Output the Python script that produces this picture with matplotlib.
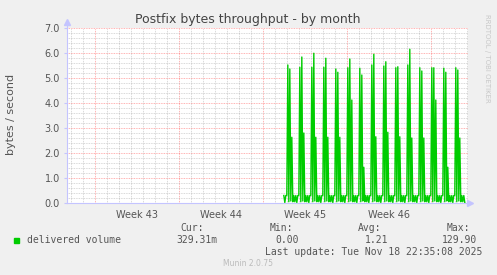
import numpy as np
from matplotlib import pyplot as plt

# munin "by month" graph, x in days from monday of week 43
week_labels = ["Week 43", "Week 44", "Week 45", "Week 46"]
week_mid = [3.5, 10.5, 17.5, 24.5]
week_start = [0, 7, 14, 21, 28]

# daily peaks (02:00, 06:00, 10:00) for days 16..30
p1 = [5.52, 5.43, 5.43, 5.43, 5.36, 5.41, 5.39, 5.52, 5.48, 5.41, 5.52, 5.41, 5.41, 5.39, 5.41]
p2 = [5.36, 5.84, 5.99, 5.79, 5.23, 5.76, 5.12, 5.95, 5.65, 5.45, 6.15, 5.28, 5.41, 5.23, 5.32]
p3 = [2.63, 2.80, 2.63, 2.63, 2.63, 4.12, 1.43, 2.65, 2.83, 2.65, 2.60, 2.60, 4.12, 1.43, 2.60]
# the quiet 2-hour slots of a day
base = [0.30, 0.00, 0.05, 0.00, 0.08, 0.00, 0.05, 0.30, 0.05, 0.30, 0.02, 0.30]

t = []
v = []
for k in range(9, 12):
    t.append(15 + k / 12)
    v.append(base[k])
for i in range(15):
    d = 16 + i
    day = list(base)
    day[1] = p1[i]
    day[3] = p2[i]
    day[5] = p3[i]
    last = 12 if d < 30 else 11
    for k in range(last):
        t.append(d + k / 12)
        v.append(day[k])

W, H = 497, 275
fig = plt.figure(figsize=(W / 100, H / 100), dpi=100)
fig.patch.set_facecolor("#F0F0F0")
ax = fig.add_axes([67 / W, 72 / H, 401 / W, 175 / H])
ax.set_facecolor("white")

xmin, xmax = -2.32, 31.1
ax.set_xlim(xmin, xmax)
ax.set_ylim(0, 7)

minor_col = (0.5, 0.5, 0.5, 0.4)
major_col = (1.0, 0.0, 0.0, 0.4)
for d in range(-2, 32):
    if d in week_start:
        continue
    ax.axvline(d, color=minor_col, lw=0.6, ls=(0, (1, 1)), zorder=1)
for d in week_start:
    ax.axvline(d, color=major_col, lw=0.6, ls=(0, (1, 1)), zorder=1)
for y in np.arange(0.2, 7.0, 0.2):
    if abs(y - round(y)) < 1e-6:
        continue
    ax.axhline(y, color=minor_col, lw=0.6, ls=(0, (1, 1)), zorder=1)
for y in range(1, 8):
    ax.axhline(y, color=major_col, lw=0.6, ls=(0, (1, 1)), zorder=1)

ax.plot(t, v, color="#00CC00", lw=1.0, zorder=3)

for s in ["top", "right"]:
    ax.spines[s].set_visible(False)
axis_col = "#C4C4FF"
ax.spines["left"].set_color(axis_col)
ax.spines["bottom"].set_color(axis_col)
ax.plot([xmax + 0.2], [0], marker=">", color=axis_col, ms=4, clip_on=False, zorder=4)
ax.plot([xmin], [7.25], marker="^", color=axis_col, ms=4, clip_on=False, zorder=4)
ax.plot([xmin, xmin], [7.0, 7.25], color=axis_col, lw=0.8, clip_on=False)

ax.set_xticks(week_mid)
ax.set_xticklabels(week_labels)
ax.set_yticks(range(8))
ax.set_yticklabels(["%.1f" % y for y in range(8)])
ax.tick_params(axis="x", length=0, pad=5, labelsize=7, colors="#555555")
ax.tick_params(axis="y", length=2, pad=3, labelsize=7, colors="#555555", color=axis_col)


def px(x, y):
    return x / W, 1 - y / H


fig.text(*px(11, 114), "bytes / second", fontsize=8, color="#555555",
         rotation=90, ha="center", va="center")
fig.text(*px(248, 19), "Postfix bytes throughput - by month", fontsize=9,
         color="#444444", ha="center", va="center")
fig.text(*px(487, 58), "RRDTOOL / TOBI OETIKER", fontsize=5, color="#C8C8C8",
         rotation=270, ha="center", va="center")

mono = "DejaVu Sans Mono"
tc = "#555555"
fig.patches.append(plt.Rectangle(px(14, 243), 5 / W, 5 / H, color="#00CC00",
                                 transform=fig.transFigure))
fig.text(*px(27, 240), "delivered volume", family=mono, fontsize=7, color=tc, va="center")
heads = ["Cur:", "Min:", "Avg:", "Max:"]
vals = ["329.31m", "0.00", "1.21", "129.90"]
head_x = [204, 293, 381, 470]
val_x = [217, 299, 388, 477]
for hx, h in zip(head_x, heads):
    fig.text(*px(hx, 228), h, family=mono, fontsize=7, color=tc, ha="right", va="center")
for vx, s in zip(val_x, vals):
    fig.text(*px(vx, 240), s, family=mono, fontsize=7, color=tc, ha="right", va="center")
fig.text(*px(482, 252), "Last update: Tue Nov 18 22:35:08 2025", family=mono,
         fontsize=7, color=tc, ha="right", va="center")
fig.text(*px(248, 264), "Munin 2.0.75", fontsize=5.5, color="#BBBBBB",
         ha="center", va="center")

fig.savefig("out.png", dpi=100, facecolor=fig.get_facecolor())
